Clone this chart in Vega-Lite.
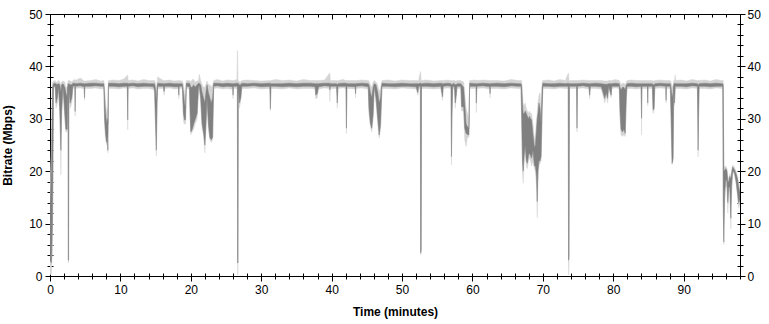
{
"$schema": "https://vega.github.io/schema/vega-lite/v6.json",
"width": 690, "height": 262,
"autosize": {"type": "none"},
"padding": {"left": 50, "top": 14, "right": 29, "bottom": 48},
"background": "white",
"data": {"values": [
{"t":0.00,"lo":0.2,"dlo":3,"dhi":14,"hi":17},
{"t":0.20,"lo":0.5,"dlo":2.5,"dhi":20,"hi":25},
{"t":0.35,"lo":5,"dlo":10,"dhi":36,"hi":37},
{"t":0.50,"lo":35.8,"dlo":36.2,"dhi":36.7,"hi":37.2},
{"t":0.74,"lo":35.9,"dlo":36.2,"dhi":36.8,"hi":37.3},
{"t":0.85,"lo":32,"dlo":33,"dhi":36.6,"hi":37},
{"t":1.05,"lo":33,"dlo":34,"dhi":36.6,"hi":37},
{"t":1.20,"lo":35.8,"dlo":36.1,"dhi":36.7,"hi":37.4},
{"t":1.40,"lo":30,"dlo":31.5,"dhi":36.5,"hi":37},
{"t":1.55,"lo":19.3,"dlo":24,"dhi":35,"hi":36.5},
{"t":1.65,"lo":30,"dlo":31.5,"dhi":36.5,"hi":37},
{"t":1.85,"lo":35.7,"dlo":36.2,"dhi":36.7,"hi":37.2},
{"t":2.10,"lo":30,"dlo":31,"dhi":36,"hi":37},
{"t":2.25,"lo":27.5,"dlo":28,"dhi":35,"hi":36},
{"t":2.45,"lo":27.5,"dlo":28,"dhi":34,"hi":36},
{"t":2.56,"lo":35.8,"dlo":36.2,"dhi":36.7,"hi":37.2},
{"t":2.60,"lo":2.5,"dlo":3,"dhi":36.5,"hi":37.2},
{"t":2.64,"lo":2.5,"dlo":3,"dhi":36.5,"hi":37.2},
{"t":2.68,"lo":35.8,"dlo":36.2,"dhi":36.7,"hi":37.4},
{"t":2.85,"lo":32,"dlo":33,"dhi":36.5,"hi":37.2},
{"t":3.10,"lo":33,"dlo":34,"dhi":36.5,"hi":37},
{"t":3.25,"lo":35.8,"dlo":36.2,"dhi":36.8,"hi":37.3},
{"t":3.52,"lo":35.9,"dlo":36.3,"dhi":36.8,"hi":37.5},
{"t":3.57,"lo":30.5,"dlo":31.4,"dhi":36.8,"hi":37.5},
{"t":3.62,"lo":35.8,"dlo":36.2,"dhi":36.7,"hi":37.3},
{"t":4.30,"lo":35.9,"dlo":36.3,"dhi":36.8,"hi":37.8},
{"t":4.85,"lo":35.7,"dlo":36.1,"dhi":36.7,"hi":37.2},
{"t":4.90,"lo":33.5,"dlo":34,"dhi":36.7,"hi":37.2},
{"t":4.95,"lo":35.8,"dlo":36.2,"dhi":36.7,"hi":37.2},
{"t":5.80,"lo":35.8,"dlo":36.2,"dhi":36.8,"hi":37.3},
{"t":6.50,"lo":35.9,"dlo":36.3,"dhi":36.8,"hi":37.5},
{"t":7.20,"lo":35.7,"dlo":36.2,"dhi":36.7,"hi":37.2},
{"t":7.65,"lo":35.8,"dlo":36.2,"dhi":36.7,"hi":37.3},
{"t":7.75,"lo":29,"dlo":30,"dhi":34,"hi":36},
{"t":7.90,"lo":26,"dlo":27,"dhi":31,"hi":33},
{"t":8.05,"lo":25,"dlo":25.5,"dhi":29,"hi":31},
{"t":8.15,"lo":26,"dlo":27,"dhi":30,"hi":32},
{"t":8.22,"lo":23.5,"dlo":24,"dhi":29,"hi":31},
{"t":8.30,"lo":35.8,"dlo":36.2,"dhi":36.8,"hi":37.3},
{"t":9.00,"lo":35.8,"dlo":36.2,"dhi":36.8,"hi":37.4},
{"t":9.80,"lo":35.7,"dlo":36.1,"dhi":36.7,"hi":37.3},
{"t":10.50,"lo":35.9,"dlo":36.2,"dhi":36.8,"hi":37.6},
{"t":10.98,"lo":35.8,"dlo":36.2,"dhi":36.8,"hi":38.3},
{"t":11.04,"lo":27.9,"dlo":29.8,"dhi":36.8,"hi":38.3},
{"t":11.10,"lo":35.8,"dlo":36.2,"dhi":36.7,"hi":37.3},
{"t":11.80,"lo":35.9,"dlo":36.3,"dhi":36.8,"hi":37.4},
{"t":12.50,"lo":35.7,"dlo":36.1,"dhi":36.7,"hi":37.2},
{"t":13.30,"lo":35.8,"dlo":36.2,"dhi":36.8,"hi":37.5},
{"t":14.00,"lo":35.8,"dlo":36.2,"dhi":36.7,"hi":37.3},
{"t":14.70,"lo":35.6,"dlo":36.1,"dhi":36.7,"hi":37.3},
{"t":14.85,"lo":35,"dlo":35.5,"dhi":36.7,"hi":37.3},
{"t":14.95,"lo":30,"dlo":31,"dhi":36,"hi":37},
{"t":15.10,"lo":22.9,"dlo":24,"dhi":33,"hi":35},
{"t":15.20,"lo":30,"dlo":33,"dhi":36,"hi":37},
{"t":15.30,"lo":35.8,"dlo":36.2,"dhi":36.8,"hi":38},
{"t":16.10,"lo":35.8,"dlo":36.2,"dhi":36.7,"hi":37.3},
{"t":16.20,"lo":34.5,"dlo":35.2,"dhi":36.7,"hi":37.3},
{"t":16.30,"lo":35.8,"dlo":36.2,"dhi":36.7,"hi":37.3},
{"t":17.00,"lo":35.9,"dlo":36.2,"dhi":36.8,"hi":37.4},
{"t":17.60,"lo":35.7,"dlo":36.1,"dhi":36.7,"hi":37.2},
{"t":18.25,"lo":35.7,"dlo":36.1,"dhi":36.7,"hi":37.3},
{"t":18.30,"lo":33.8,"dlo":34.5,"dhi":36.7,"hi":37.3},
{"t":18.35,"lo":35.8,"dlo":36.2,"dhi":36.7,"hi":37.3},
{"t":18.80,"lo":35.8,"dlo":36.2,"dhi":36.7,"hi":37.2},
{"t":18.95,"lo":29.5,"dlo":31,"dhi":35,"hi":36.5},
{"t":19.10,"lo":29,"dlo":29.8,"dhi":33,"hi":35},
{"t":19.25,"lo":29,"dlo":29.8,"dhi":32,"hi":34},
{"t":19.35,"lo":35.8,"dlo":36.2,"dhi":36.8,"hi":37.3},
{"t":19.80,"lo":35.7,"dlo":36.1,"dhi":36.8,"hi":37.3},
{"t":19.90,"lo":30,"dlo":31,"dhi":36.5,"hi":37.2},
{"t":20.00,"lo":27,"dlo":27.5,"dhi":36,"hi":37},
{"t":20.20,"lo":27.5,"dlo":28,"dhi":36,"hi":37.5},
{"t":20.40,"lo":28,"dlo":29,"dhi":36.5,"hi":37.5},
{"t":20.60,"lo":29,"dlo":29.8,"dhi":36,"hi":37},
{"t":20.90,"lo":30,"dlo":31,"dhi":36.5,"hi":37.2},
{"t":21.10,"lo":35.8,"dlo":36.2,"dhi":36.8,"hi":37.3},
{"t":21.20,"lo":35.8,"dlo":36.2,"dhi":36.8,"hi":38.5},
{"t":21.40,"lo":33,"dlo":34,"dhi":36.5,"hi":37.3},
{"t":21.60,"lo":28,"dlo":29,"dhi":35,"hi":36.5},
{"t":21.80,"lo":27,"dlo":27.5,"dhi":34,"hi":36},
{"t":22.00,"lo":23.5,"dlo":25,"dhi":33,"hi":36},
{"t":22.15,"lo":28,"dlo":29,"dhi":35,"hi":36.5},
{"t":22.30,"lo":33,"dlo":34,"dhi":36.5,"hi":37.2},
{"t":22.50,"lo":28,"dlo":29,"dhi":35,"hi":36.5},
{"t":22.70,"lo":26,"dlo":26.5,"dhi":34,"hi":36.5},
{"t":22.90,"lo":25.5,"dlo":26,"dhi":33,"hi":36},
{"t":23.10,"lo":26,"dlo":26.5,"dhi":34,"hi":36.5},
{"t":23.25,"lo":35.8,"dlo":36.2,"dhi":36.8,"hi":37.3},
{"t":23.80,"lo":35.9,"dlo":36.3,"dhi":36.8,"hi":37.5},
{"t":24.50,"lo":35.7,"dlo":36.1,"dhi":36.7,"hi":37.2},
{"t":25.20,"lo":35.8,"dlo":36.2,"dhi":36.8,"hi":37.4},
{"t":25.95,"lo":35.6,"dlo":36.1,"dhi":36.7,"hi":37.3},
{"t":26.00,"lo":33.8,"dlo":34.5,"dhi":36.7,"hi":37.3},
{"t":26.05,"lo":35.8,"dlo":36.2,"dhi":36.7,"hi":37.3},
{"t":26.55,"lo":35.8,"dlo":36.2,"dhi":36.8,"hi":37.5},
{"t":26.61,"lo":35.8,"dlo":36.2,"dhi":36.8,"hi":43},
{"t":26.65,"lo":0.2,"dlo":2.5,"dhi":36.8,"hi":43},
{"t":26.70,"lo":0.2,"dlo":2.5,"dhi":36.8,"hi":37.3},
{"t":26.75,"lo":35.6,"dlo":36,"dhi":36.7,"hi":37.3},
{"t":26.90,"lo":32,"dlo":33,"dhi":36.5,"hi":37},
{"t":27.10,"lo":33.5,"dlo":34,"dhi":36.5,"hi":37},
{"t":27.25,"lo":35.8,"dlo":36.2,"dhi":36.8,"hi":37.3},
{"t":28.00,"lo":35.8,"dlo":36.2,"dhi":36.7,"hi":37.4},
{"t":29.00,"lo":35.9,"dlo":36.3,"dhi":36.8,"hi":37.3},
{"t":30.00,"lo":35.7,"dlo":36.1,"dhi":36.7,"hi":37.2},
{"t":31.22,"lo":35.8,"dlo":36.2,"dhi":36.8,"hi":37.3},
{"t":31.30,"lo":31.5,"dlo":31.9,"dhi":36.8,"hi":37.3},
{"t":31.38,"lo":35.8,"dlo":36.2,"dhi":36.7,"hi":37.3},
{"t":32.00,"lo":35.8,"dlo":36.2,"dhi":36.7,"hi":37.5},
{"t":33.00,"lo":35.7,"dlo":36.1,"dhi":36.7,"hi":37.3},
{"t":34.00,"lo":35.9,"dlo":36.2,"dhi":36.8,"hi":37.4},
{"t":35.00,"lo":35.7,"dlo":36.1,"dhi":36.7,"hi":37.2},
{"t":36.00,"lo":35.8,"dlo":36.2,"dhi":36.8,"hi":37.5},
{"t":37.00,"lo":35.8,"dlo":36.2,"dhi":36.8,"hi":37.3},
{"t":37.65,"lo":35.7,"dlo":36.1,"dhi":36.7,"hi":37.3},
{"t":37.75,"lo":33.8,"dlo":34.5,"dhi":36.7,"hi":37.3},
{"t":37.95,"lo":34,"dlo":34.8,"dhi":36.7,"hi":37.3},
{"t":38.15,"lo":35.7,"dlo":36.1,"dhi":36.7,"hi":37.3},
{"t":39.00,"lo":35.9,"dlo":36.3,"dhi":36.8,"hi":37.4},
{"t":39.70,"lo":35.8,"dlo":36.2,"dhi":36.8,"hi":38.7},
{"t":39.75,"lo":33.3,"dlo":35.5,"dhi":36.8,"hi":38.7},
{"t":39.82,"lo":35.8,"dlo":36.2,"dhi":36.7,"hi":37.3},
{"t":40.70,"lo":35.8,"dlo":36.2,"dhi":36.7,"hi":37.3},
{"t":40.80,"lo":32,"dlo":33,"dhi":36.5,"hi":37.2},
{"t":40.90,"lo":35.8,"dlo":36.2,"dhi":36.7,"hi":37.3},
{"t":41.60,"lo":35.9,"dlo":36.2,"dhi":36.8,"hi":37.5},
{"t":42.03,"lo":35.8,"dlo":36.2,"dhi":36.8,"hi":37.3},
{"t":42.10,"lo":27.2,"dlo":28.2,"dhi":36.8,"hi":37.3},
{"t":42.17,"lo":35.8,"dlo":36.2,"dhi":36.7,"hi":37.3},
{"t":43.35,"lo":35.7,"dlo":36.1,"dhi":36.7,"hi":37.3},
{"t":43.40,"lo":34,"dlo":34.8,"dhi":36.7,"hi":37.3},
{"t":43.45,"lo":35.8,"dlo":36.2,"dhi":36.7,"hi":37.3},
{"t":44.30,"lo":35.9,"dlo":36.3,"dhi":36.8,"hi":37.4},
{"t":45.20,"lo":35.7,"dlo":36.1,"dhi":36.7,"hi":37.3},
{"t":45.30,"lo":31,"dlo":32,"dhi":36.5,"hi":37.2},
{"t":45.50,"lo":28.5,"dlo":29.2,"dhi":35,"hi":36.5},
{"t":45.70,"lo":27.5,"dlo":28.2,"dhi":34,"hi":36},
{"t":45.90,"lo":30,"dlo":31,"dhi":36,"hi":37},
{"t":46.05,"lo":35.8,"dlo":36.2,"dhi":36.7,"hi":37.3},
{"t":46.30,"lo":33,"dlo":34,"dhi":36.5,"hi":37},
{"t":46.55,"lo":29,"dlo":30,"dhi":35,"hi":36.5},
{"t":46.75,"lo":26.3,"dlo":26.9,"dhi":33,"hi":35},
{"t":46.95,"lo":28,"dlo":29,"dhi":34,"hi":36},
{"t":47.15,"lo":35.8,"dlo":36.2,"dhi":36.8,"hi":37.3},
{"t":48.00,"lo":35.8,"dlo":36.2,"dhi":36.7,"hi":37.4},
{"t":49.00,"lo":35.7,"dlo":36.1,"dhi":36.7,"hi":37.2},
{"t":50.00,"lo":35.9,"dlo":36.2,"dhi":36.8,"hi":37.4},
{"t":51.00,"lo":35.8,"dlo":36.2,"dhi":36.7,"hi":37.3},
{"t":52.00,"lo":35.7,"dlo":36.1,"dhi":36.7,"hi":37.3},
{"t":52.25,"lo":34.5,"dlo":35,"dhi":36.7,"hi":37.3},
{"t":52.35,"lo":35.8,"dlo":36.2,"dhi":36.7,"hi":37.3},
{"t":52.60,"lo":35.8,"dlo":36.2,"dhi":36.8,"hi":39},
{"t":52.64,"lo":4,"dlo":4.4,"dhi":36.8,"hi":39},
{"t":52.72,"lo":4.4,"dlo":5,"dhi":36.7,"hi":37.3},
{"t":52.77,"lo":35.8,"dlo":36.2,"dhi":36.7,"hi":37.3},
{"t":53.50,"lo":35.8,"dlo":36.2,"dhi":36.8,"hi":37.4},
{"t":54.50,"lo":35.7,"dlo":36.1,"dhi":36.7,"hi":37.2},
{"t":55.50,"lo":35.8,"dlo":36.2,"dhi":36.8,"hi":37.3},
{"t":55.75,"lo":33.5,"dlo":34.2,"dhi":36.7,"hi":37.3},
{"t":55.85,"lo":35.8,"dlo":36.2,"dhi":36.7,"hi":37.3},
{"t":56.50,"lo":35.9,"dlo":36.3,"dhi":36.8,"hi":37.4},
{"t":56.95,"lo":35.8,"dlo":36.2,"dhi":36.7,"hi":37.3},
{"t":57.02,"lo":21.2,"dlo":22.8,"dhi":36.5,"hi":37.3},
{"t":57.10,"lo":30,"dlo":31,"dhi":36.5,"hi":37.2},
{"t":57.20,"lo":35.8,"dlo":36.2,"dhi":36.7,"hi":37.3},
{"t":57.45,"lo":35.7,"dlo":36.1,"dhi":36.7,"hi":37.3},
{"t":57.55,"lo":32,"dlo":33,"dhi":36.5,"hi":37.2},
{"t":57.70,"lo":34,"dlo":34.5,"dhi":36.5,"hi":37.2},
{"t":57.80,"lo":35.8,"dlo":36.2,"dhi":36.7,"hi":37.3},
{"t":58.35,"lo":35.8,"dlo":36.2,"dhi":36.7,"hi":37.3},
{"t":58.45,"lo":31.5,"dlo":32.3,"dhi":36.5,"hi":37.2},
{"t":58.75,"lo":31.5,"dlo":32.3,"dhi":36,"hi":37},
{"t":58.90,"lo":26,"dlo":28.2,"dhi":33,"hi":35},
{"t":59.10,"lo":24.7,"dlo":27.2,"dhi":29,"hi":32},
{"t":59.30,"lo":26.5,"dlo":27,"dhi":28.5,"hi":31},
{"t":59.50,"lo":26.5,"dlo":26.9,"dhi":28.2,"hi":30},
{"t":59.60,"lo":35.8,"dlo":36.2,"dhi":36.8,"hi":37.3},
{"t":60.50,"lo":35.8,"dlo":36.2,"dhi":36.7,"hi":37.4},
{"t":60.55,"lo":31.2,"dlo":33,"dhi":36.7,"hi":37.4},
{"t":60.62,"lo":35.8,"dlo":36.2,"dhi":36.7,"hi":37.3},
{"t":61.50,"lo":35.9,"dlo":36.3,"dhi":36.8,"hi":37.4},
{"t":62.45,"lo":35.7,"dlo":36.1,"dhi":36.7,"hi":37.3},
{"t":62.50,"lo":34,"dlo":34.8,"dhi":36.7,"hi":37.3},
{"t":62.55,"lo":35.8,"dlo":36.2,"dhi":36.7,"hi":37.3},
{"t":63.50,"lo":35.8,"dlo":36.2,"dhi":36.8,"hi":37.3},
{"t":64.50,"lo":35.7,"dlo":36.1,"dhi":36.7,"hi":37.2},
{"t":65.50,"lo":35.9,"dlo":36.3,"dhi":36.8,"hi":37.5},
{"t":66.50,"lo":35.8,"dlo":36.2,"dhi":36.7,"hi":37.3},
{"t":66.90,"lo":35.8,"dlo":36.2,"dhi":36.7,"hi":37.3},
{"t":66.98,"lo":30,"dlo":31,"dhi":36.5,"hi":37.3},
{"t":67.10,"lo":20,"dlo":22,"dhi":33,"hi":35},
{"t":67.20,"lo":17.7,"dlo":20,"dhi":31,"hi":33},
{"t":67.35,"lo":22,"dlo":23,"dhi":31,"hi":32.5},
{"t":67.50,"lo":24,"dlo":25,"dhi":31.5,"hi":33},
{"t":67.65,"lo":21,"dlo":22,"dhi":31,"hi":32},
{"t":67.80,"lo":20.5,"dlo":21.5,"dhi":30.5,"hi":31.5},
{"t":67.95,"lo":22,"dlo":23,"dhi":30,"hi":31},
{"t":68.10,"lo":22.5,"dlo":23.5,"dhi":30.5,"hi":31.5},
{"t":68.25,"lo":22,"dlo":23,"dhi":30,"hi":31},
{"t":68.40,"lo":21,"dlo":22.5,"dhi":29.8,"hi":31},
{"t":68.60,"lo":22,"dlo":24,"dhi":27,"hi":29},
{"t":68.80,"lo":20.5,"dlo":21,"dhi":24.5,"hi":26},
{"t":68.95,"lo":20,"dlo":21,"dhi":25,"hi":27},
{"t":69.10,"lo":17,"dlo":19,"dhi":28,"hi":30},
{"t":69.20,"lo":11.1,"dlo":14.2,"dhi":30,"hi":31},
{"t":69.30,"lo":18,"dlo":20,"dhi":31,"hi":33},
{"t":69.45,"lo":21,"dlo":22,"dhi":33,"hi":34.5},
{"t":69.60,"lo":21.5,"dlo":22,"dhi":32,"hi":35},
{"t":69.75,"lo":22,"dlo":22.8,"dhi":29,"hi":31},
{"t":69.90,"lo":30,"dlo":32,"dhi":36,"hi":37},
{"t":70.00,"lo":35.8,"dlo":36.2,"dhi":36.8,"hi":37.3},
{"t":70.80,"lo":35.8,"dlo":36.2,"dhi":36.7,"hi":37.4},
{"t":71.60,"lo":35.7,"dlo":36.1,"dhi":36.7,"hi":37.2},
{"t":72.40,"lo":35.9,"dlo":36.2,"dhi":36.8,"hi":37.5},
{"t":73.20,"lo":35.8,"dlo":36.2,"dhi":36.7,"hi":37.3},
{"t":73.60,"lo":35.8,"dlo":36.2,"dhi":36.8,"hi":38.7},
{"t":73.65,"lo":0.2,"dlo":3,"dhi":36.8,"hi":38.7},
{"t":73.72,"lo":2,"dlo":3.5,"dhi":36.7,"hi":37.3},
{"t":73.78,"lo":35.8,"dlo":36.2,"dhi":36.7,"hi":37.3},
{"t":74.78,"lo":35.8,"dlo":36.2,"dhi":36.7,"hi":37.3},
{"t":74.85,"lo":27.5,"dlo":28.2,"dhi":36.7,"hi":37.3},
{"t":74.92,"lo":35.8,"dlo":36.2,"dhi":36.7,"hi":37.3},
{"t":75.70,"lo":35.9,"dlo":36.3,"dhi":36.8,"hi":37.4},
{"t":76.55,"lo":35.7,"dlo":36.1,"dhi":36.7,"hi":37.3},
{"t":76.65,"lo":33.8,"dlo":34.5,"dhi":36.7,"hi":37.3},
{"t":76.75,"lo":35.8,"dlo":36.2,"dhi":36.7,"hi":37.3},
{"t":77.50,"lo":35.8,"dlo":36.2,"dhi":36.8,"hi":37.3},
{"t":78.30,"lo":35.7,"dlo":36.1,"dhi":36.7,"hi":37.3},
{"t":78.80,"lo":33,"dlo":33.9,"dhi":36.6,"hi":37.2},
{"t":79.00,"lo":34.5,"dlo":35,"dhi":36.6,"hi":37.2},
{"t":79.20,"lo":33,"dlo":33.9,"dhi":36.6,"hi":37.2},
{"t":79.35,"lo":35.8,"dlo":36.2,"dhi":36.7,"hi":37.3},
{"t":79.70,"lo":34,"dlo":34.5,"dhi":36.7,"hi":37.3},
{"t":79.80,"lo":35.8,"dlo":36.2,"dhi":36.7,"hi":37.3},
{"t":80.30,"lo":35.9,"dlo":36.2,"dhi":36.8,"hi":37.5},
{"t":80.85,"lo":35.8,"dlo":36.2,"dhi":36.7,"hi":37.3},
{"t":80.95,"lo":30,"dlo":31.7,"dhi":36,"hi":37},
{"t":81.10,"lo":27,"dlo":28,"dhi":35.5,"hi":36.5},
{"t":81.30,"lo":26.6,"dlo":27.5,"dhi":36,"hi":36.8},
{"t":81.50,"lo":27,"dlo":28,"dhi":36,"hi":36.8},
{"t":81.70,"lo":26.6,"dlo":27.2,"dhi":35.5,"hi":36.5},
{"t":81.85,"lo":33,"dlo":34,"dhi":36.5,"hi":37},
{"t":81.95,"lo":35.8,"dlo":36.2,"dhi":36.7,"hi":37.3},
{"t":82.60,"lo":35.8,"dlo":36.2,"dhi":36.8,"hi":37.4},
{"t":83.30,"lo":35.7,"dlo":36.1,"dhi":36.7,"hi":37.3},
{"t":83.95,"lo":35.8,"dlo":36.2,"dhi":36.7,"hi":37.3},
{"t":84.02,"lo":26.9,"dlo":30.1,"dhi":36.7,"hi":37.3},
{"t":84.08,"lo":35.8,"dlo":36.2,"dhi":36.7,"hi":37.3},
{"t":84.85,"lo":35.8,"dlo":36.2,"dhi":36.7,"hi":37.3},
{"t":84.90,"lo":32.5,"dlo":33,"dhi":36.7,"hi":37.3},
{"t":84.95,"lo":35.8,"dlo":36.2,"dhi":36.7,"hi":37.3},
{"t":85.55,"lo":35.8,"dlo":36.2,"dhi":36.7,"hi":37.3},
{"t":85.65,"lo":31,"dlo":31.7,"dhi":36.5,"hi":37.2},
{"t":85.80,"lo":31.5,"dlo":32,"dhi":36.5,"hi":37.2},
{"t":85.90,"lo":35.8,"dlo":36.2,"dhi":36.7,"hi":37.3},
{"t":86.70,"lo":35.9,"dlo":36.3,"dhi":36.8,"hi":37.4},
{"t":87.45,"lo":35.8,"dlo":36.2,"dhi":36.7,"hi":37.3},
{"t":87.50,"lo":33,"dlo":33.5,"dhi":36.7,"hi":37.3},
{"t":87.55,"lo":35.8,"dlo":36.2,"dhi":36.7,"hi":37.3},
{"t":88.10,"lo":35.8,"dlo":36.2,"dhi":36.7,"hi":37.3},
{"t":88.20,"lo":30,"dlo":31,"dhi":36,"hi":37},
{"t":88.35,"lo":21.3,"dlo":21.5,"dhi":34,"hi":36},
{"t":88.50,"lo":22,"dlo":22.5,"dhi":35,"hi":36.5},
{"t":88.60,"lo":35.8,"dlo":36.2,"dhi":36.7,"hi":37.3},
{"t":88.70,"lo":32.5,"dlo":33,"dhi":36.7,"hi":37.3},
{"t":88.80,"lo":35.8,"dlo":36.2,"dhi":36.8,"hi":38.4},
{"t":88.88,"lo":35.8,"dlo":36.2,"dhi":36.7,"hi":37.3},
{"t":89.60,"lo":35.8,"dlo":36.2,"dhi":36.7,"hi":37.4},
{"t":90.40,"lo":35.7,"dlo":36.1,"dhi":36.7,"hi":37.2},
{"t":91.20,"lo":35.9,"dlo":36.3,"dhi":36.8,"hi":37.5},
{"t":91.95,"lo":35.8,"dlo":36.2,"dhi":36.7,"hi":37.3},
{"t":92.05,"lo":22.7,"dlo":24,"dhi":36.5,"hi":37.3},
{"t":92.12,"lo":30,"dlo":31,"dhi":36.5,"hi":37.3},
{"t":92.20,"lo":35.8,"dlo":36.2,"dhi":36.7,"hi":37.3},
{"t":93.00,"lo":35.8,"dlo":36.2,"dhi":36.8,"hi":37.4},
{"t":93.80,"lo":35.7,"dlo":36.1,"dhi":36.7,"hi":37.2},
{"t":94.60,"lo":35.9,"dlo":36.2,"dhi":36.8,"hi":37.5},
{"t":95.40,"lo":35.8,"dlo":36.2,"dhi":36.7,"hi":37.3},
{"t":95.55,"lo":35.8,"dlo":36.2,"dhi":36.7,"hi":37.3},
{"t":95.62,"lo":12,"dlo":14,"dhi":36.5,"hi":37.3},
{"t":95.70,"lo":6,"dlo":6.5,"dhi":20,"hi":21},
{"t":95.82,"lo":14,"dlo":16,"dhi":20.2,"hi":20.8},
{"t":96.00,"lo":17,"dlo":18.5,"dhi":20.5,"hi":21},
{"t":96.15,"lo":17,"dlo":18,"dhi":20,"hi":20.5},
{"t":96.27,"lo":12,"dlo":14,"dhi":18,"hi":19},
{"t":96.40,"lo":16,"dlo":17,"dhi":18,"hi":18.5},
{"t":96.55,"lo":16.5,"dlo":17,"dhi":19,"hi":19.5},
{"t":96.70,"lo":9,"dlo":11,"dhi":18.5,"hi":19},
{"t":96.80,"lo":15,"dlo":17,"dhi":19.5,"hi":20},
{"t":96.95,"lo":19.5,"dlo":20,"dhi":20.8,"hi":21.2},
{"t":97.20,"lo":19.5,"dlo":19.8,"dhi":20.3,"hi":20.8},
{"t":97.45,"lo":17.5,"dlo":18,"dhi":19.5,"hi":20},
{"t":97.65,"lo":15,"dlo":15.8,"dhi":18.5,"hi":19},
{"t":97.80,"lo":13,"dlo":14,"dhi":17,"hi":18},
{"t":98.00,"lo":14,"dlo":14.5,"dhi":16,"hi":17}
]},
"resolve": {"axis": {"x": "independent", "y": "independent"}},
"layer": [
{"mark": {"type": "area", "color": "#d4d4d4", "stroke": "#d4d4d4", "strokeWidth": 0.5, "clip": true},
 "encoding": {
  "x": {"field": "t", "type": "quantitative", "scale": {"domain": [0, 98], "nice": false, "zero": false},
        "axis": {"orient": "bottom", "values": [0,10,20,30,40,50,60,70,80,90], "tickSize": 5, "labelPadding": 3, "title": "Time (minutes)", "titlePadding": 11}},
  "y": {"field": "hi", "type": "quantitative", "scale": {"domain": [0, 50], "nice": false},
        "axis": {"orient": "left", "values": [0,10,20,30,40,50], "tickSize": 5, "labelPadding": 3, "title": "Bitrate (Mbps)", "titlePadding": 14}},
  "y2": {"field": "lo"}
 }},
{"mark": {"type": "area", "color": "#808080", "stroke": "#808080", "strokeWidth": 0.5, "clip": true},
 "encoding": {
  "x": {"field": "t", "type": "quantitative",
        "axis": {"orient": "bottom", "values": [0,2,4,6,8,10,12,14,16,18,20,22,24,26,28,30,32,34,36,38,40,42,44,46,48,50,52,54,56,58,60,62,64,66,68,70,72,74,76,78,80,82,84,86,88,90,92,94,96,98], "tickSize": 3, "labels": false, "title": null}},
  "y": {"field": "dhi", "type": "quantitative",
        "axis": {"orient": "left", "values": [0,2,4,6,8,10,12,14,16,18,20,22,24,26,28,30,32,34,36,38,40,42,44,46,48,50], "tickSize": 3, "labels": false, "title": null}},
  "y2": {"field": "dlo"}
 }},
{"mark": {"type": "point", "opacity": 0},
 "encoding": {
  "x": {"field": "t", "type": "quantitative",
        "axis": {"orient": "bottom", "values": [0,2,4,6,8,10,12,14,16,18,20,22,24,26,28,30,32,34,36,38,40,42,44,46,48,50,52,54,56,58,60,62,64,66,68,70,72,74,76,78,80,82,84,86,88,90,92,94,96,98], "tickSize": -3, "labels": false, "title": null}},
  "y": {"field": "dlo", "type": "quantitative",
        "axis": {"orient": "left", "values": [0,2,4,6,8,10,12,14,16,18,20,22,24,26,28,30,32,34,36,38,40,42,44,46,48,50], "tickSize": -3, "labels": false, "title": null}}
 }},
{"mark": {"type": "point", "opacity": 0},
 "encoding": {
  "x": {"field": "t", "type": "quantitative",
        "axis": {"orient": "top", "values": [0,2,4,6,8,10,12,14,16,18,20,22,24,26,28,30,32,34,36,38,40,42,44,46,48,50,52,54,56,58,60,62,64,66,68,70,72,74,76,78,80,82,84,86,88,90,92,94,96,98], "tickSize": -3, "labels": false, "title": null}},
  "y": {"field": "dlo", "type": "quantitative",
        "axis": {"orient": "right", "values": [0,10,20,30,40,50], "tickSize": 5, "labelPadding": 2, "title": null}}
 }},
{"mark": {"type": "point", "opacity": 0},
 "encoding": {
  "x": {"field": "t", "type": "quantitative",
        "axis": {"orient": "top", "values": [0,10,20,30,40,50,60,70,80,90], "tickSize": -5, "labels": false, "title": null}},
  "y": {"field": "dlo", "type": "quantitative",
        "axis": {"orient": "right", "values": [0,2,4,6,8,10,12,14,16,18,20,22,24,26,28,30,32,34,36,38,40,42,44,46,48,50], "tickSize": 3, "labels": false, "title": null}}
 }},
{"mark": {"type": "point", "opacity": 0},
 "encoding": {
  "x": {"field": "t", "type": "quantitative", "axis": null},
  "y": {"field": "dlo", "type": "quantitative",
        "axis": {"orient": "right", "values": [0,2,4,6,8,10,12,14,16,18,20,22,24,26,28,30,32,34,36,38,40,42,44,46,48,50], "tickSize": -3, "labels": false, "title": null}}
 }}
],
"config": {
  "view": {"stroke": "black", "strokeWidth": 1},
  "axis": {"grid": false, "domain": false, "tickColor": "black", "tickWidth": 1, "labelColor": "black", "labelFont": "Liberation Sans", "labelFontSize": 12, "labelFlush": false, "labelOverlap": false, "titleFont": "Liberation Sans", "titleFontSize": 12, "titleFontWeight": "bold", "titleColor": "black"}
}
}
